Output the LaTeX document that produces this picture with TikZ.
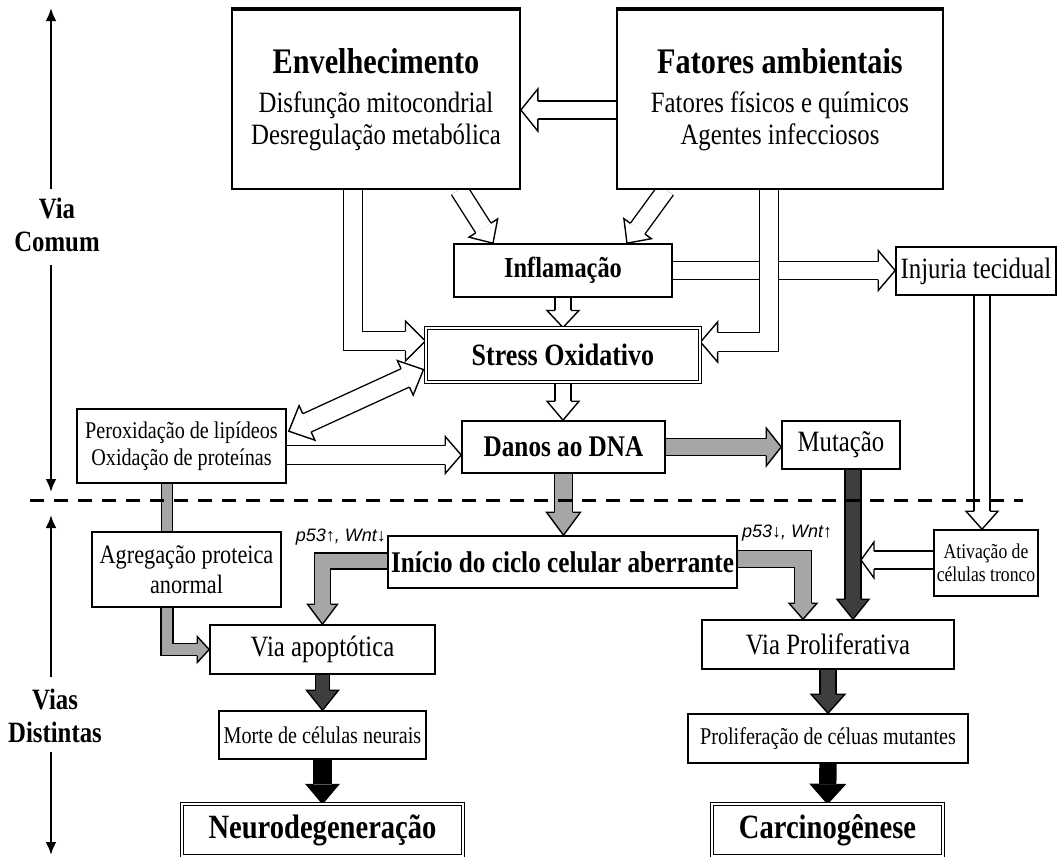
\documentclass[tikz,border=0pt]{standalone}
\usepackage{fontspec}
\setmainfont{Liberation Serif}[FakeStretch=0.84]
\newfontfamily\labfont{Liberation Sans}
\usetikzlibrary{arrows.meta,calc,backgrounds}
\definecolor{lgray}{RGB}{166,166,166}
\definecolor{dgray}{RGB}{62,62,62}
\newcommand\fs[2]{\fontsize{#1pt}{#2pt}\selectfont}
\newcommand\arwlw{1.4pt}
% arrow head: #2 from (direction), #3 tip, #4 half shaft, #5 half head, #6 head length
\newcommand\Head[6][white]{%
  \filldraw[fill=#1, line width=\arwlw, line join=miter]
    ($(#3)!#6pt!(#2)!#4pt!90:(#2)$) -- ($(#3)!#6pt!(#2)!#5pt!90:(#2)$) -- (#3)
    -- ($(#3)!#6pt!(#2)!#5pt!-90:(#2)$) -- ($(#3)!#6pt!(#2)!#4pt!-90:(#2)$);}
% block arrow: #2 path prefix, #3 last point before tip, #4 tip, #5 half shaft, #6 half head, #7 head length
\newcommand\BA[7][white]{%
  \draw[bshaft={#1}{#5}] #2 ($(#4)!#7pt!(#3)$);
  \Head[#1]{#3}{#4}{#5}{#6}{#7}}
\tikzset{
  bshaft/.style 2 args={line width=\arwlw, double=#1, double distance={2*#2pt-\arwlw}, line join=miter},
  box/.style={draw, line width=1.6pt, fill=white, inner sep=0pt, align=center},
  dbox/.style={draw, line width=1.1pt, double, double distance=2.2pt, fill=white, inner sep=0pt, align=center},
  axis/.style={line width=2.6pt, -{Latex[length=13pt,width=11pt]}},
  axlab/.style={inner sep=0pt, align=center, font=\fs{29.5}{32.5}\bfseries},
  lbl/.style={inner sep=0pt, font=\labfont\itshape\fs{18}{20}}
}
\begin{document}
\begin{tikzpicture}[x=1pt,y=-1pt]
\useasboundingbox (0,0) rectangle (1058,857);

% boxes
\node[box, minimum width=288pt, minimum height=179pt, font=\fs{29.5}{32}] (env) at (376,99.5)
  {{\fs{36}{39}\bfseries Envelhecimento}\\[7pt]Disfunção mitocondrial\\Desregulação metabólica};
\node[box, minimum width=326pt, minimum height=179pt, font=\fs{29.5}{32}] (fat) at (780,99.5)
  {{\fs{36}{39}\bfseries Fatores ambientais}\\[7pt]Fatores físicos e químicos\\Agentes infecciosos};
\node[box, minimum width=218pt, minimum height=53pt, font=\fs{29}{32}\bfseries] (infl) at (563,270.5) {Inflamação};
\node[dbox, minimum width=274pt, minimum height=54pt, font=\fs{31}{34}\bfseries] (stress) at (563,355) {Stress Oxidativo};
\node[box, minimum width=160pt, minimum height=48pt, font=\fs{29.5}{32}] (injuria) at (976,271) {Injuria tecidual};
\node[box, minimum width=209pt, minimum height=74pt, font=\fs{24}{27}] (perox) at (181.5,446)
  {Peroxidação de lipídeos\\Oxidação de proteínas};
\node[box, minimum width=203pt, minimum height=52pt, font=\fs{30}{33}\bfseries] (dna) at (563.5,447) {Danos ao DNA};
\node[box, minimum width=118pt, minimum height=48pt, font=\fs{29.5}{32}] (mut) at (841,445) {Mutação};
\node[box, minimum width=189pt, minimum height=75pt, font=\fs{26.5}{30}] (agreg) at (186.5,569.5)
  {Agregação proteica\\anormal};
\node[box, minimum width=349pt, minimum height=52pt, font=\fs{30}{33}\bfseries] (inicio) at (562.5,562)
  {Início do ciclo celular aberrante};
\node[box, minimum width=104pt, minimum height=66pt, font=\fs{21}{23}] (ativ) at (986,563)
  {Ativação de\\células tronco};
\node[box, minimum width=225pt, minimum height=49pt, font=\fs{29.5}{32}] (apopt) at (322.5,649.5) {Via apoptótica};
\node[box, minimum width=207pt, minimum height=48pt, font=\fs{24}{27}] (morte) at (322.5,735) {Morte de células neurais};
\node[dbox, minimum width=281pt, minimum height=52pt, font=\fs{34}{36}\bfseries] (neuro) at (322.5,830) {Neurodegeneração};
\node[box, minimum width=252pt, minimum height=49pt, font=\fs{29.5}{32}] (prolif) at (828,644.5) {Via Proliferativa};
\node[box, minimum width=280pt, minimum height=49pt, font=\fs{24}{27}] (prolcel) at (828,738.5) {Proliferação de céluas mutantes};
\node[dbox, minimum width=231pt, minimum height=52pt, font=\fs{34}{36}\bfseries] (carc) at (827.5,830) {Carcinogênese};

\draw[line width=3.5pt] (env.north west) -- (env.north east);
\draw[line width=3.5pt] (fat.north west) -- (fat.north east);

% labels
\node[lbl, anchor=east] (lp1) at ($(inicio.north west)+(-1,2)$) {p53↑, Wnt↓};
\node[lbl, anchor=west] (lp2) at ($(inicio.north east)+(4,-2)$) {p53↓, Wnt↑};

% connector points
\coordinate (a1s) at ($(fat.west)+(0,10.5)$);
\coordinate (a1t) at (env.east |- a1s);
\coordinate (a2s) at ($(env.south)+(83,0)$);
\coordinate (a2t) at ($(infl.north)+(-70,0)$);
\coordinate (a3s) at ($(fat.south)+(-114,0)$);
\coordinate (a3t) at ($(infl.north)+(64,0)$);
\coordinate (a4s) at ($(env.south)+(-23,0)$);
\coordinate (a4t) at ($(stress.west)+(0,-14)$);
\coordinate (a4c) at (a4s |- a4t);
\coordinate (a5s) at ($(fat.south)+(-11,0)$);
\coordinate (a5t) at ($(stress.east)+(0,-13)$);
\coordinate (a5c) at (a5s |- a5t);
\coordinate (a6t) at (injuria.west |- infl.east);
\coordinate (a8t) at (stress.south |- dna.north);
\coordinate (a9a) at ($(perox.north east)+(2,23)$);
\coordinate (a9b) at ($(stress.south west)+(-2,-13)$);
\coordinate (a10s) at ($(perox.east)+(0,9)$);
\coordinate (a10t) at (dna.west |- a10s);
\coordinate (a11t) at (mut.west |- dna.east);
\coordinate (a12t) at (dna.south |- inicio.north);
\coordinate (a13s) at ($(mut.south)+(12,0)$);
\coordinate (a13t) at (a13s |- prolif.north);
\coordinate (a14s) at ($(ativ.west)+(0,-3)$);
\coordinate (a14t) at ($(a14s -| a13s)+(8,0)$);
\coordinate (a15s) at ($(injuria.south)+(6,0)$);
\coordinate (a15t) at (a15s |- ativ.north);
\coordinate (a16s) at ($(inicio.west)+(0,-1)$);
\coordinate (a16c) at (apopt.north |- a16s);
\coordinate (a17s) at ($(inicio.east)+(0,-3)$);
\coordinate (a17t) at ($(prolif.north)+(-25,0)$);
\coordinate (a17c) at (a17t |- a17s);
\coordinate (a18s) at ($(perox.south)+(-14.5,0)$);
\coordinate (a18e) at (a18s |- agreg.north);
\coordinate (a18f) at (a18s |- agreg.south);
\coordinate (a18c) at (a18s |- apopt.west);

\begin{scope}[on background layer]
\BA{(a1s) --}{a1s}{a1t}{9}{21}{17}
\BA{(a2s) --}{a2s}{a2t}{9}{17}{18}
\BA{(a3s) --}{a3s}{a3t}{9}{17}{18}
\BA{(a4s) -- (a4c) --}{a4c}{a4t}{9.5}{20}{20}
\BA{(infl.east) --}{infl.east}{a6t}{9}{20}{17}
\BA{(a5s) -- (a5c) --}{a5c}{a5t}{9.5}{20}{17}
\BA{(infl.south) --}{infl.south}{stress.north}{8}{16}{17}
\BA{(stress.south) --}{stress.south}{a8t}{8}{16}{19}
\draw[bshaft={white}{10}] ($(a9a)!20pt!(a9b)$) -- ($(a9b)!20pt!(a9a)$);
\Head{a9b}{a9a}{10}{19}{20}
\Head{a9a}{a9b}{10}{19}{20}
\BA{(a10s) --}{a10s}{a10t}{9.5}{18.5}{16}
\BA[lgray]{(dna.east) --}{dna.east}{a11t}{8.5}{19}{15}
\BA[lgray]{(dna.south) --}{dna.south}{a12t}{9}{17}{23}
\BA{(a15s) --}{a15s}{a15t}{8}{16}{18}
\BA[dgray]{(a13s) --}{a13s}{a13t}{8}{16}{20}
\BA{(a14s) --}{a14s}{a14t}{9}{18}{13}
\BA[lgray]{(a16s) -- (a16c) --}{a16c}{apopt.north}{8}{15}{20}
\BA[lgray]{(a17s) -- (a17c) --}{a17c}{a17t}{8.5}{14}{16}
\draw[bshaft={lgray}{5.5}] (a18s) -- (a18e);
\BA[lgray]{(a18f) -- (a18c) --}{a18c}{apopt.west}{6}{13}{12}
\BA[dgray]{(apopt.south) --}{apopt.south}{morte.north}{7}{16}{20}
\BA[black]{(morte.south) --}{morte.south}{neuro.north}{9}{16}{19}
\BA[dgray]{(prolif.south) --}{prolif.south}{prolcel.north}{8}{17}{19}
\BA[black]{(prolcel.south) --}{prolcel.south}{carc.north}{8}{17}{19}
\end{scope}

% axis and divider
\node[axlab] (viac) at (57,225) {Via\\Comum};
\node[axlab] (viad) at (55,716) {Vias\\Distintas};
\coordinate (ax1) at (51,8);
\coordinate (ax2) at (51,189);
\coordinate (ax3) at (51,265);
\coordinate (ax4) at (51,492);
\coordinate (ax5) at (51,515);
\coordinate (ax6) at (51,677);
\coordinate (ax7) at (51,752);
\coordinate (ax8) at (51,855);
\draw[axis] (ax2) -- (ax1);
\draw[axis] (ax3) -- (ax4);
\draw[axis] (ax6) -- (ax5);
\draw[axis] (ax7) -- (ax8);
\coordinate (dl) at (30,500);
\coordinate (dr) at (1023,500);
\draw[line width=3pt, dash pattern=on 14pt off 10pt] (dl) -- (dr);
\end{tikzpicture}
\end{document}
